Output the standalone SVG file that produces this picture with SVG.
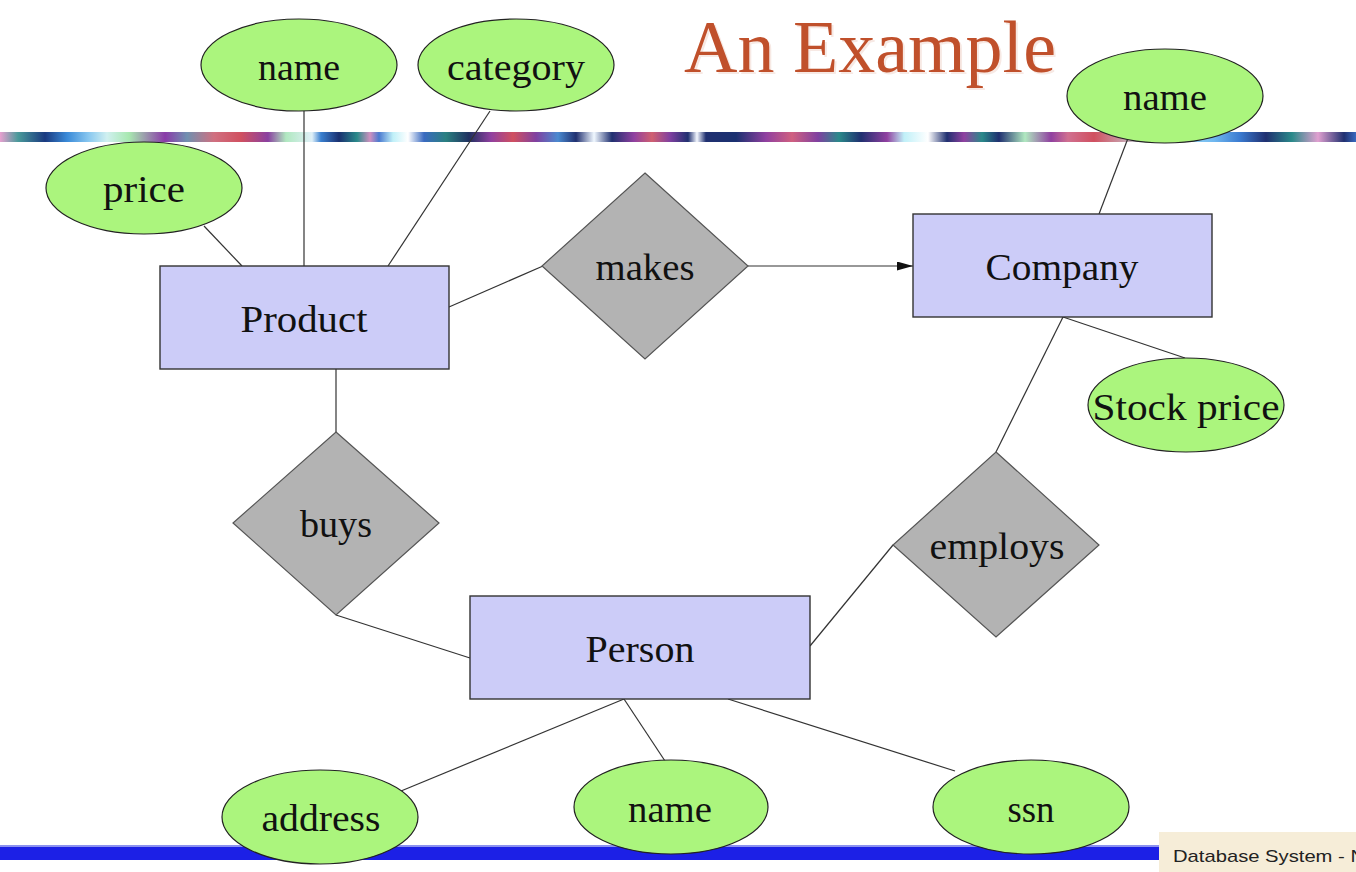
<svg xmlns="http://www.w3.org/2000/svg" width="1356" height="872" viewBox="0 0 1356 872">
<defs>
<linearGradient id="stripe" x1="0" y1="0" x2="1356" y2="0" gradientUnits="userSpaceOnUse">
<stop offset="0" stop-color="#e8a0d0"/><stop offset=".0133" stop-color="#4a9a9a"/><stop offset=".0332" stop-color="#1a3a80"/><stop offset=".0494" stop-color="#3a8ad8"/><stop offset=".0656" stop-color="#8ac8f0"/><stop offset=".0789" stop-color="#d0f0f0"/><stop offset=".0951" stop-color="#a8e8b0"/><stop offset=".1217" stop-color="#8a3aa8"/><stop offset=".1379" stop-color="#7090b0"/><stop offset=".1578" stop-color="#d07080"/><stop offset=".1777" stop-color="#d05060"/><stop offset=".1976" stop-color="#8a40a0"/><stop offset=".2109" stop-color="#b0e8c0"/><stop offset=".2301" stop-color="#e0f0f8"/><stop offset=".2367" stop-color="#3a80d0"/><stop offset=".25" stop-color="#1a3070"/><stop offset=".2633" stop-color="#2a8a8a"/><stop offset=".2729" stop-color="#d090c0"/><stop offset=".2795" stop-color="#4a7ad0"/><stop offset=".2898" stop-color="#c0f0f8"/><stop offset=".3009" stop-color="#ffffff"/><stop offset=".3127" stop-color="#3a6ac0"/><stop offset=".3289" stop-color="#2a8080"/><stop offset=".3459" stop-color="#203060"/><stop offset=".3621" stop-color="#9040a0"/><stop offset=".3783" stop-color="#d05060"/><stop offset=".3953" stop-color="#8040a0"/><stop offset=".4115" stop-color="#4a8ad0"/><stop offset=".4248" stop-color="#203070"/><stop offset=".4381" stop-color="#f0f8ff"/><stop offset=".4513" stop-color="#203070"/><stop offset=".4676" stop-color="#9040a0"/><stop offset=".4808" stop-color="#d06070"/><stop offset=".4941" stop-color="#8040a0"/><stop offset=".5074" stop-color="#203070"/><stop offset=".514" stop-color="#f4f8ff"/><stop offset=".5206" stop-color="#203070"/><stop offset=".5428" stop-color="#1a3070"/><stop offset=".5649" stop-color="#9040a0"/><stop offset=".5841" stop-color="#d06080"/><stop offset=".6032" stop-color="#8040a0"/><stop offset=".6187" stop-color="#2a8a8a"/><stop offset=".635" stop-color="#203070"/><stop offset=".6541" stop-color="#9040a0"/><stop offset=".6667" stop-color="#c0f0f8"/><stop offset=".6844" stop-color="#ffffff"/><stop offset=".6984" stop-color="#203070"/><stop offset=".7109" stop-color="#9040a0"/><stop offset=".7242" stop-color="#2a8a8a"/><stop offset=".7367" stop-color="#203070"/><stop offset=".7559" stop-color="#b0e8c0"/><stop offset=".7751" stop-color="#9040a0"/><stop offset=".7876" stop-color="#d07090"/><stop offset=".8068" stop-color="#d05060"/><stop offset=".851" stop-color="#c0f0f8"/><stop offset=".8953" stop-color="#70b8f0"/><stop offset=".9145" stop-color="#3a7ad0"/><stop offset=".9336" stop-color="#203070"/><stop offset=".9528" stop-color="#2a8a8a"/><stop offset=".972" stop-color="#e0a0d0"/><stop offset=".9912" stop-color="#203070"/><stop offset="1" stop-color="#3a6ac0"/>
</linearGradient>
<marker id="arrow" viewBox="0 0 10 10" refX="10" refY="5" markerWidth="16" markerHeight="9" markerUnits="userSpaceOnUse" orient="auto" preserveAspectRatio="none">
<path d="M0,0 L10,5 L0,10 Z" fill="#111"/>
</marker>
</defs>
<style>
.attr{fill:#abf57d;stroke:#222;stroke-width:1.2}
.ent{fill:#ccccf8;stroke:#333;stroke-width:1.4}
.rel{fill:#b3b3b3;stroke:#555;stroke-width:1.2}
.conn line{stroke:#333;stroke-width:1.2}
.lbl{font-family:"Liberation Serif","Times New Roman",serif;font-size:37px;fill:#111;text-anchor:middle}
.title{font-family:"Liberation Serif","Times New Roman",serif;font-size:73px;fill:#c0502b}
.foot{font-family:"Liberation Sans",Arial,sans-serif;font-size:17px;fill:#222}
</style>
<rect x="0" y="0" width="1356" height="872" fill="#ffffff"/>
<!-- decorations -->
<rect x="0" y="132" width="1356" height="10" fill="url(#stripe)"/>
<rect x="0" y="845" width="1159" height="2" fill="#8c92f0"/>
<rect x="0" y="847" width="1159" height="13" fill="#1c20e6"/>
<rect x="1159" y="832" width="197" height="40" fill="#f6edd8"/>
<text class="foot" x="1173" y="862" textLength="192" lengthAdjust="spacingAndGlyphs">Database System - N</text>
<text class="title" x="686" y="74" textLength="372" lengthAdjust="spacingAndGlyphs" fill="#000" opacity="0.12">An Example</text>
<text class="title" x="684" y="72" textLength="372" lengthAdjust="spacingAndGlyphs">An Example</text>
<!-- connectors -->
<g id="connectors" class="conn">
<line x1="204" y1="226" x2="242" y2="266"/>
<line x1="304" y1="111" x2="304" y2="266"/>
<line x1="490" y1="111" x2="388" y2="266"/>
<line x1="449" y1="307" x2="543" y2="266"/>
<line x1="748" y1="266" x2="913" y2="266" marker-end="url(#arrow)"/>
<line x1="1130" y1="133" x2="1099" y2="214"/>
<line x1="1063" y1="317" x2="1185" y2="358"/>
<line x1="1063" y1="317" x2="996" y2="452"/>
<line x1="336" y1="369" x2="336" y2="432"/>
<line x1="336" y1="615" x2="470" y2="658"/>
<line x1="810" y1="646" x2="893" y2="545"/>
<line x1="624" y1="699" x2="401" y2="791"/>
<line x1="624" y1="699" x2="665" y2="761"/>
<line x1="728" y1="699" x2="955" y2="771"/>
</g>
<!-- nodes -->
<g id="product-name"><ellipse class="attr" cx="299" cy="65" rx="98" ry="46"/><text class="lbl" x="299" y="80" textLength="82" lengthAdjust="spacingAndGlyphs">name</text></g>
<g id="product-category"><ellipse class="attr" cx="516" cy="65" rx="98" ry="46"/><text class="lbl" x="516" y="80" textLength="138" lengthAdjust="spacingAndGlyphs">category</text></g>
<g id="product-price"><ellipse class="attr" cx="144" cy="188" rx="98" ry="46"/><text class="lbl" x="144" y="202" textLength="82" lengthAdjust="spacingAndGlyphs">price</text></g>
<g id="product"><rect class="ent" x="160" y="266" width="289" height="103"/><text class="lbl" x="304" y="332" textLength="127" lengthAdjust="spacingAndGlyphs">Product</text></g>
<g id="makes"><polygon class="rel" points="645,173 748,266 645,359 542,266"/><text class="lbl" x="645" y="280" textLength="99" lengthAdjust="spacingAndGlyphs">makes</text></g>
<g id="company"><rect class="ent" x="913" y="214" width="299" height="103"/><text class="lbl" x="1062" y="280" textLength="153" lengthAdjust="spacingAndGlyphs">Company</text></g>
<g id="company-name"><ellipse class="attr" cx="1165" cy="96" rx="98" ry="47"/><text class="lbl" x="1165" y="110" textLength="84" lengthAdjust="spacingAndGlyphs">name</text></g>
<g id="company-stock-price"><ellipse class="attr" cx="1186" cy="405" rx="98" ry="47"/><text class="lbl" x="1186" y="420" textLength="187" lengthAdjust="spacingAndGlyphs">Stock price</text></g>
<g id="buys"><polygon class="rel" points="336,432 439,523 336,615 233,523"/><text class="lbl" x="336" y="537" textLength="72" lengthAdjust="spacingAndGlyphs">buys</text></g>
<g id="employs"><polygon class="rel" points="996,452 1099,545 996,637 893,545"/><text class="lbl" x="997" y="559" textLength="135" lengthAdjust="spacingAndGlyphs">employs</text></g>
<g id="person"><rect class="ent" x="470" y="596" width="340" height="103"/><text class="lbl" x="640" y="662" textLength="109" lengthAdjust="spacingAndGlyphs">Person</text></g>
<g id="person-address"><ellipse class="attr" cx="320" cy="817" rx="98" ry="47"/><text class="lbl" x="321" y="831" textLength="119" lengthAdjust="spacingAndGlyphs">address</text></g>
<g id="person-name"><ellipse class="attr" cx="671" cy="807" rx="97" ry="47"/><text class="lbl" x="670" y="822" textLength="84" lengthAdjust="spacingAndGlyphs">name</text></g>
<g id="person-ssn"><ellipse class="attr" cx="1031" cy="807" rx="98" ry="47"/><text class="lbl" x="1031" y="822" textLength="47" lengthAdjust="spacingAndGlyphs">ssn</text></g>
</svg>
